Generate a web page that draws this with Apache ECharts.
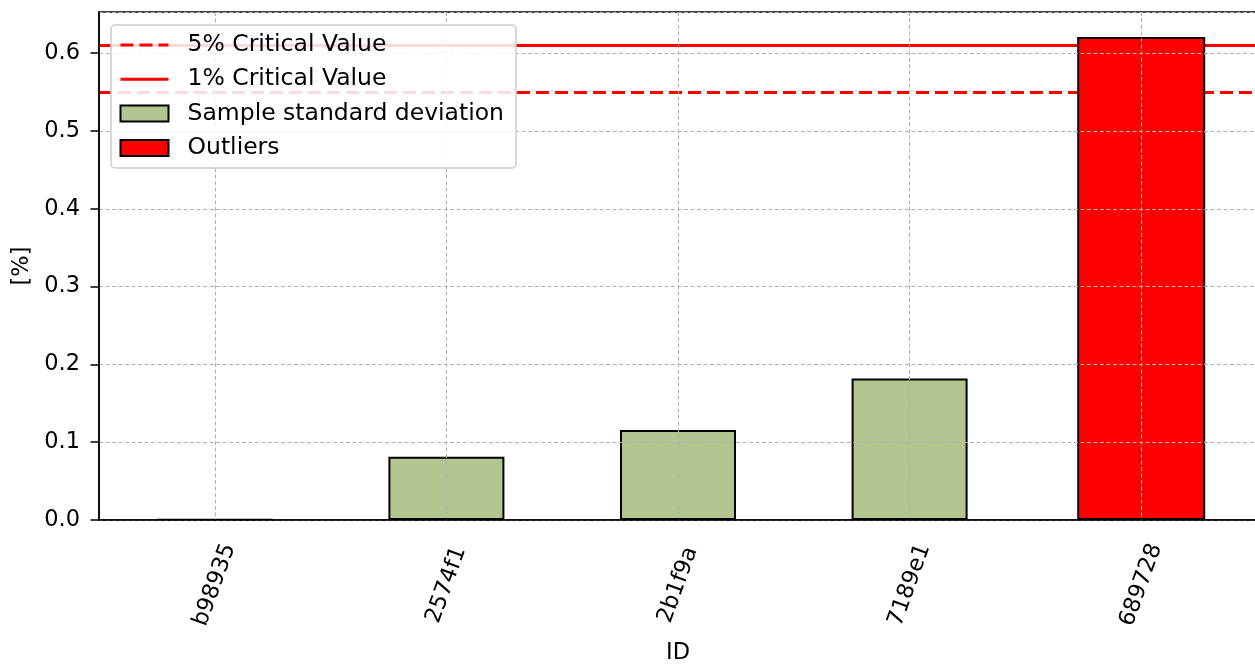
<!DOCTYPE html>
<html>
<head>
<meta charset="utf-8">
<script src="https://cdn.jsdelivr.net/npm/echarts@6/dist/echarts.min.js"></script>
<style>
  html, body { margin: 0; padding: 0; background: #fff; }
  #chart { width: 1255px; height: 664px; }
</style>
</head>
<body>
<div id="chart"></div>
<script>
// categories and values
const ids = ["b98935", "2574f1", "2b1f9a", "7189e1", "689728"];
const sampleStd = [0.0005, 0.0814, 0.1157, 0.182, null];
const outliers = [null, null, null, null, 0.621];
const crit5 = 0.5484;
const crit1 = 0.6083;
const yTicks = [0, 0.1, 0.2, 0.3, 0.4, 0.5, 0.6];

const font = "DejaVu Sans";
const grey = "#b0b0b0";
const chart = echarts.init(document.getElementById("chart"), null, { renderer: "canvas" });

chart.setOption({
  animation: false,
  textStyle: { fontFamily: font },
  grid: {
    left: 99,
    top: 12,
    right: -2,
    bottom: 144,
    outerBoundsMode: "none",
    containLabel: false,
    show: true,
    borderColor: "#000",
    borderWidth: 1.5
  },
  legend: {
    left: 111,
    top: 25,
    z: 10,
    orient: "vertical",
    padding: [8, 12, 8, 8],
    itemWidth: 48,
    itemHeight: 16,
    itemGap: 10.3,
    backgroundColor: "rgba(255,255,255,0.85)",
    borderColor: "#cccccc",
    borderWidth: 1.5,
    borderRadius: 4,
    textStyle: { fontFamily: font, fontSize: 23.5, color: "#000", padding: [0, 0, 0, 14], lineHeight: 24 },
    data: [
      { name: "5% Critical Value", itemStyle: { opacity: 0 }, lineStyle: { width: 3, type: [13, 6] } },
      { name: "1% Critical Value", itemStyle: { opacity: 0 }, lineStyle: { width: 3, type: "solid" } },
      { name: "Sample standard deviation", icon: "rect" },
      { name: "Outliers", icon: "rect" }
    ]
  },
  xAxis: [
    {
      type: "category",
      data: ids,
      z: 4,
      name: "ID",
      nameLocation: "middle",
      nameGap: 122,
      nameTextStyle: { fontFamily: font, fontSize: 22.5, color: "#000" },
      axisLine: { lineStyle: { color: "#000", width: 1.5 } },
      axisTick: { alignWithLabel: true, length: 8.5, lineStyle: { color: "#000", width: 1.5 } },
      axisLabel: {
        rotate: 70,
        align: "center",
        verticalAlign: "middle",
        margin: 65,
        fontFamily: font,
        fontSize: 22.5,
        color: "#000"
      },
      splitLine: {
        show: true,
        alignWithLabel: true,
        lineStyle: { color: grey, type: [4, 2.5], width: 1 }
      }
    },
    {
      type: "category",
      data: ids,
      show: false
    }
  ],
  yAxis: {
    type: "value",
    min: 0,
    max: 0.653,
    interval: 0.1,
    z: 4,
    name: "[%]",
    nameLocation: "middle",
    nameGap: 65,
    nameRotate: 90,
    nameTextStyle: { fontFamily: font, fontSize: 22.5, color: "#000" },
    axisLine: { show: true, lineStyle: { color: "#000", width: 1.5 } },
    axisTick: { show: true, length: 8.5, lineStyle: { color: "#000", width: 1.5 } },
    axisLabel: {
      fontFamily: font,
      fontSize: 22.5,
      color: "#000",
      margin: 19,
      showMaxLabel: false,
      formatter: function (v) {
        return yTicks.some(t => Math.abs(t - v) < 1e-9) ? v.toFixed(1) : "";
      }
    },
    splitLine: { show: true, lineStyle: { color: grey, type: [4, 2.5], width: 1 } }
  },
  series: [
    {
      name: "Sample standard deviation",
      type: "bar",
      xAxisIndex: 0,
      data: sampleStd,
      barWidth: 116,
      z: 3,
      itemStyle: { color: "#b3c58e", borderColor: "#000", borderWidth: 2 }
    },
    {
      name: "Outliers",
      type: "bar",
      xAxisIndex: 1,
      data: outliers,
      barWidth: 128,
      z: 3,
      itemStyle: { color: "#ff0000", borderColor: "#000", borderWidth: 2 }
    },
    {
      name: "5% Critical Value",
      type: "line",
      data: [],
      symbol: "none",
      color: "#ff0000",
      lineStyle: { color: "#ff0000", width: 3, type: [13, 6] },
      markLine: {
        silent: true,
        symbol: "none",
        label: { show: false },
        lineStyle: { color: "#ff0000", width: 3, type: [13, 6] },
        data: [{ yAxis: crit5 }],
        z: 1
      }
    },
    {
      name: "1% Critical Value",
      type: "line",
      data: [],
      symbol: "none",
      color: "#ff0000",
      lineStyle: { color: "#ff0000", width: 3, type: "solid" },
      markLine: {
        silent: true,
        symbol: "none",
        label: { show: false },
        lineStyle: { color: "#ff0000", width: 3, type: "solid" },
        data: [{ yAxis: crit1 }],
        z: 1
      }
    }
  ]
});
</script>
</body>
</html>
